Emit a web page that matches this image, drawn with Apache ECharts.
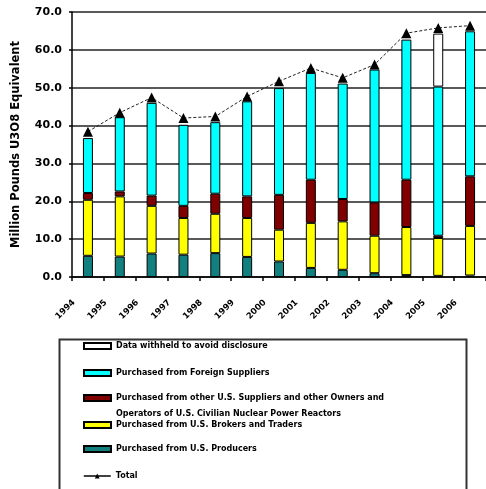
<!DOCTYPE html>
<html>
<head>
<meta charset="utf-8">
<script src="https://cdn.jsdelivr.net/npm/echarts@6/dist/echarts.min.js"></script>
<style>
  html, body { margin: 0; padding: 0; background: #fff; }
  #chart { width: 486px; height: 489px; }
</style>
</head>
<body>
<div id="chart"></div>
<script>
// Data (million pounds U3O8 equivalent)
const years = ['1994', '1995', '1996', '1997', '1998', '1999', '2000', '2001', '2002', '2003', '2004', '2005', '2006'];
const usProducers = [5.6, 5.4, 6.2, 5.9, 6.3, 5.3, 4.1, 2.4, 1.9, 1.0, 0.5, 0.3, 0.4];
const usBrokers = [14.8, 15.9, 12.6, 9.7, 10.4, 10.3, 8.4, 11.9, 12.8, 9.9, 12.7, 10.0, 13.1];
const otherUS = [1.8, 1.3, 2.7, 3.2, 5.3, 5.7, 9.2, 11.4, 5.9, 8.8, 12.5, 0.6, 13.1];
const foreign = [14.5, 19.6, 24.5, 21.4, 18.9, 25.1, 28.2, 28.2, 30.5, 35.1, 37.0, 39.4, 38.3];
const withheld = ['-', '-', '-', '-', '-', '-', '-', '-', '-', '-', '-', 14.0, '-'];
const total = [38.4, 43.4, 47.4, 42.0, 42.4, 47.7, 51.7, 55.2, 52.6, 56.1, 64.4, 65.8, 66.4];
const yTicks = [0, 10, 20, 30, 40, 50, 60, 70];

const names = {
    withheld: 'Data withheld to avoid disclosure',
    foreign: 'Purchased from Foreign Suppliers',
    other: 'Purchased from other U.S. Suppliers and other Owners and Operators of U.S. Civilian Nuclear Power Reactors',
    brokers: 'Purchased from U.S. Brokers and Traders',
    producers: 'Purchased from U.S. Producers',
    total: 'Total'
};

const font = 'DejaVu Sans';
const chart = echarts.init(document.getElementById('chart'));

function barSeries(name, data, color) {
    return {
        name: name,
        type: 'bar',
        stack: 'purchases',
        data: data,
        barWidth: 10,
        itemStyle: { color: color, borderColor: '#000', borderWidth: 1 }
    };
}

// one legend per row so the rows keep the reference spacing
function legendRow(name, centerY, twoLines) {
    const lg = {
        data: [{ name: name, icon: name === names.total ? undefined : 'rect' }],
        left: 83,
        top: twoLines ? centerY - 24 : centerY - 3,
        padding: 0,
        itemWidth: 27,
        itemHeight: 6,
        itemGap: 0,
        selectedMode: false,
        textStyle: { fontFamily: font, fontWeight: 'bold', fontSize: 8, color: '#000' }
    };
    if (twoLines) {
        // leading blank line keeps the first text line level with the icon
        lg.formatter = () => '\nPurchased from other U.S. Suppliers and other Owners and\nOperators of U.S. Civilian Nuclear Power Reactors';
        lg.textStyle.lineHeight = 16;
    }
    if (name === names.total) {
        lg.lineStyle = { type: 'solid', width: 1.5, color: '#000' };
    }
    return lg;
}

const option = {
    backgroundColor: '#fff',
    animation: false,
    grid: { left: 72, right: -11, top: 12, bottom: 212 },
    xAxis: {
        type: 'category',
        data: years,
        axisLine: { lineStyle: { color: '#000', width: 1.5 } },
        axisTick: { show: true, length: 4, lineStyle: { color: '#000', width: 1.5 } },
        axisLabel: {
            rotate: 45,
            margin: 10,
            padding: [0, 20, 0, 0],
            fontFamily: font,
            fontWeight: 'bold',
            fontSize: 8.5,
            color: '#000'
        }
    },
    yAxis: {
        type: 'value',
        min: yTicks[0],
        max: yTicks[yTicks.length - 1],
        interval: 10,
        name: 'Million Pounds U3O8 Equivalent',
        nameLocation: 'middle',
        nameGap: 50,
        nameTextStyle: { fontFamily: font, fontWeight: 'bold', fontSize: 11.5, color: '#000' },
        axisLine: { show: true, lineStyle: { color: '#000', width: 1.5 } },
        axisTick: { show: true, length: 3, lineStyle: { color: '#000', width: 1.5 } },
        axisLabel: {
            margin: 10,
            fontFamily: font,
            fontWeight: 'bold',
            fontSize: 11,
            color: '#000',
            formatter: (v) => v.toFixed(1)
        },
        splitLine: { lineStyle: { color: '#222', width: 1.5 } }
    },
    legend: [
        legendRow(names.withheld, 345),
        legendRow(names.foreign, 372),
        legendRow(names.other, 398, true),
        legendRow(names.brokers, 424),
        legendRow(names.producers, 448),
        legendRow(names.total, 475)
    ],
    graphic: [{
        type: 'rect',
        left: 57,
        top: 337,
        shape: { width: 407, height: 170 },
        style: { fill: 'none', stroke: '#333', lineWidth: 2 },
        silent: true
    }],
    series: [
        barSeries(names.producers, usProducers, '#138080'),
        barSeries(names.brokers, usBrokers, '#ffff00'),
        barSeries(names.other, otherUS, '#800000'),
        barSeries(names.foreign, foreign, '#00ffff'),
        barSeries(names.withheld, withheld, '#ffffff'),
        {
            name: names.total,
            type: 'line',
            data: total,
            symbol: 'triangle',
            symbolSize: 10,
            itemStyle: { color: '#000' },
            lineStyle: { color: '#222', width: 1, type: [3, 2] },
            z: 10
        }
    ]
};

chart.setOption(option);
</script>
</body>
</html>
